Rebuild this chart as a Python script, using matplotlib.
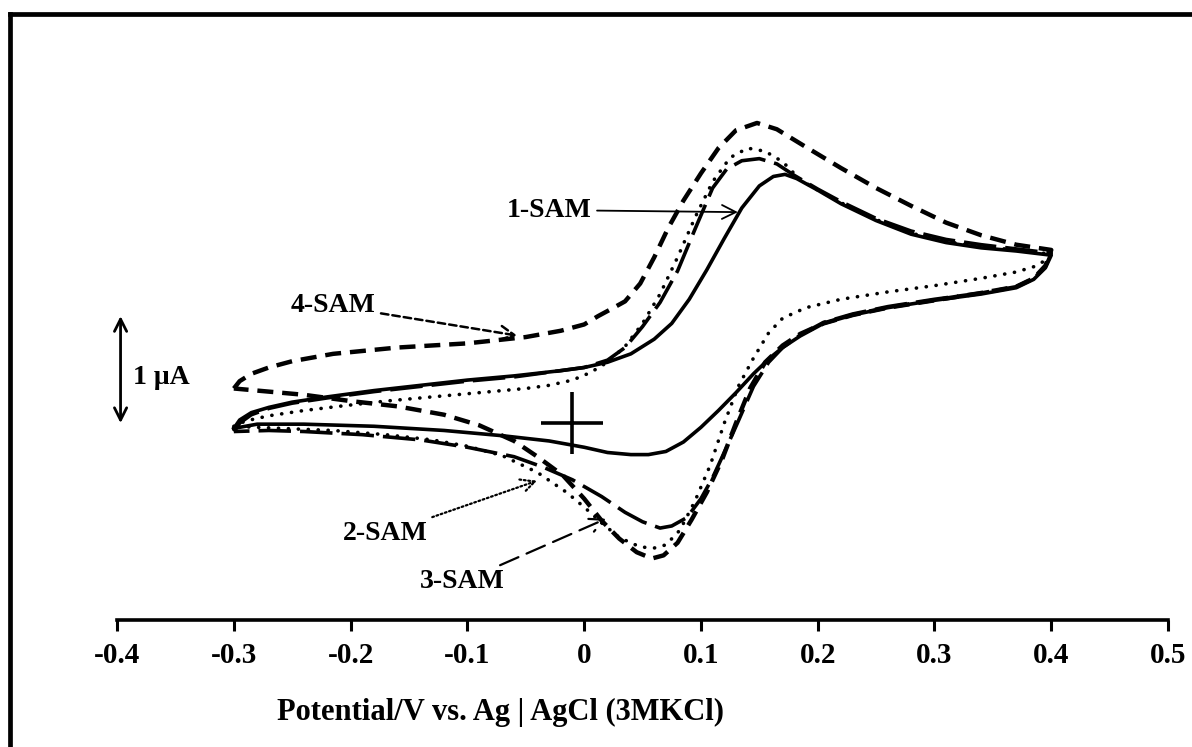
import matplotlib
matplotlib.use("Agg")
import matplotlib.pyplot as plt
from matplotlib.lines import Line2D

# potential (V) and current (uA), forward then reverse scan
sam1_e_fwd = [-0.300, -0.295, -0.285, -0.270, -0.250, -0.220, -0.180, -0.140, -0.100, -0.060,
              -0.020, 0.000, 0.020, 0.040, 0.060, 0.075, 0.090, 0.105, 0.120, 0.135,
              0.150, 0.162, 0.172, 0.182, 0.200, 0.220, 0.250, 0.280, 0.310, 0.340, 0.370, 0.400]
sam1_i_fwd = [-0.05, 0.03, 0.10, 0.15, 0.20, 0.25, 0.31, 0.36, 0.41, 0.45,
              0.50, 0.53, 0.58, 0.66, 0.80, 0.95, 1.18, 1.46, 1.76, 2.05,
              2.26, 2.35, 2.37, 2.33, 2.22, 2.09, 1.93, 1.80, 1.72, 1.67, 1.64, 1.60]
sam1_e_rev = [0.400, 0.395, 0.385, 0.370, 0.340, 0.300, 0.260, 0.230, 0.205, 0.185,
              0.170, 0.160, 0.145, 0.130, 0.115, 0.100, 0.085, 0.070, 0.055, 0.040,
              0.020, 0.000, -0.030, -0.070, -0.120, -0.180, -0.240, -0.280, -0.300]
sam1_i_rev = [1.60, 1.48, 1.37, 1.29, 1.23, 1.17, 1.10, 1.03, 0.95, 0.83,
              0.72, 0.63, 0.47, 0.29, 0.12, -0.04, -0.18, -0.27, -0.30, -0.30,
              -0.28, -0.23, -0.17, -0.12, -0.07, -0.03, -0.01, -0.01, -0.05]

sam2_e_fwd = [-0.300, -0.290, -0.270, -0.240, -0.210, -0.170, -0.130, -0.090, -0.050, -0.030,
              -0.010, 0.005, 0.020, 0.035, 0.050, 0.065, 0.080, 0.095, 0.110, 0.125,
              0.140, 0.155, 0.170, 0.185, 0.200, 0.220, 0.250, 0.280, 0.310, 0.340, 0.370, 0.400]
sam2_i_fwd = [-0.03, 0.02, 0.07, 0.12, 0.16, 0.21, 0.25, 0.29, 0.33, 0.36,
              0.41, 0.48, 0.58, 0.73, 0.95, 1.23, 1.58, 1.96, 2.30, 2.53,
              2.62, 2.59, 2.49, 2.32, 2.22, 2.10, 1.94, 1.81, 1.73, 1.68, 1.65, 1.61]
sam2_e_rev = [0.400, 0.395, 0.385, 0.370, 0.340, 0.300, 0.260, 0.220, 0.190, 0.170,
              0.158, 0.145, 0.132, 0.120, 0.108, 0.095, 0.082, 0.070, 0.060, 0.048,
              0.030, 0.015, 0.000, -0.015, -0.040, -0.070, -0.100, -0.130, -0.170, -0.215,
              -0.260, -0.300]
sam2_i_rev = [1.61, 1.55, 1.49, 1.44, 1.38, 1.31, 1.25, 1.18, 1.10, 1.00,
              0.86, 0.62, 0.35, 0.00, -0.40, -0.74, -1.02, -1.16, -1.19, -1.18,
              -1.09, -0.95, -0.80, -0.66, -0.47, -0.31, -0.22, -0.16, -0.11, -0.07,
              -0.05, -0.03]

sam3_e_fwd = [-0.300, -0.295, -0.285, -0.270, -0.250, -0.220, -0.180, -0.140, -0.100, -0.060,
              -0.020, 0.000, 0.020, 0.035, 0.050, 0.065, 0.080, 0.095, 0.110, 0.122,
              0.135, 0.150, 0.165, 0.180, 0.200, 0.220, 0.250, 0.280, 0.310, 0.340, 0.370, 0.400]
sam3_i_fwd = [-0.08, 0.00, 0.08, 0.14, 0.19, 0.24, 0.30, 0.35, 0.40, 0.44,
              0.50, 0.53, 0.60, 0.72, 0.92, 1.15, 1.45, 1.85, 2.24, 2.42,
              2.50, 2.52, 2.47, 2.36, 2.23, 2.11, 1.95, 1.83, 1.75, 1.70, 1.66, 1.62]
sam3_e_rev = [0.400, 0.395, 0.385, 0.370, 0.340, 0.300, 0.260, 0.230, 0.205, 0.185,
              0.170, 0.158, 0.145, 0.132, 0.122, 0.110, 0.100, 0.088, 0.075, 0.065,
              0.050, 0.035, 0.015, -0.010, -0.035, -0.060, -0.100, -0.140, -0.190, -0.240,
              -0.270, -0.300]
sam3_i_rev = [1.62, 1.49, 1.38, 1.30, 1.24, 1.18, 1.11, 1.04, 0.96, 0.84,
              0.72, 0.58, 0.35, 0.02, -0.23, -0.52, -0.72, -0.90, -0.98, -1.00,
              -0.94, -0.85, -0.70, -0.54, -0.42, -0.32, -0.23, -0.16, -0.11, -0.08,
              -0.07, -0.08]

sam4_e_fwd = [-0.300, -0.295, -0.285, -0.270, -0.250, -0.215, -0.160, -0.100, -0.050, -0.020,
              0.000, 0.012, 0.022, 0.035, 0.048, 0.060, 0.072, 0.085, 0.100, 0.115,
              0.130, 0.148, 0.165, 0.190, 0.220, 0.250, 0.280, 0.310, 0.340, 0.370, 0.400]
sam4_i_fwd = [0.33, 0.40, 0.47, 0.53, 0.59, 0.66, 0.72, 0.76, 0.82, 0.88,
              0.94, 1.02, 1.08, 1.16, 1.33, 1.58, 1.86, 2.12, 2.38, 2.62,
              2.79, 2.86, 2.80, 2.63, 2.43, 2.24, 2.07, 1.91, 1.79, 1.70, 1.65]
sam4_e_rev = [0.400, 0.395, 0.385, 0.370, 0.340, 0.300, 0.260, 0.230, 0.205, 0.185,
              0.170, 0.155, 0.142, 0.130, 0.118, 0.105, 0.092, 0.080, 0.068, 0.058,
              0.045, 0.030, 0.015, 0.000, -0.018, -0.040, -0.060, -0.090, -0.120, -0.160,
              -0.200, -0.240, -0.270, -0.290, -0.300]
sam4_i_rev = [1.65, 1.50, 1.38, 1.30, 1.24, 1.17, 1.10, 1.03, 0.95, 0.85,
              0.74, 0.58, 0.33, 0.00, -0.35, -0.66, -0.92, -1.14, -1.26, -1.29,
              -1.23, -1.10, -0.93, -0.72, -0.50, -0.32, -0.17, -0.02, 0.08, 0.16,
              0.21, 0.27, 0.30, 0.32, 0.33]

x_ticks = [-0.4, -0.3, -0.2, -0.1, 0, 0.1, 0.2, 0.3, 0.4, 0.5]
x_tick_labels = ["-0.4", "-0.3", "-0.2", "-0.1", "0", "0.1", "0.2", "0.3", "0.4", "0.5"]
scale_bar = 1.0  # uA

plt.rcParams['font.family'] = ['Liberation Serif', 'DejaVu Serif']
plt.rcParams['font.weight'] = 'bold'

fig = plt.figure(figsize=(11.92, 7.47), dpi=100)
ax = fig.add_axes([0.0982, 0.1700, 0.8817, 0.7764])

ax.plot(sam1_e_fwd + sam1_e_rev, sam1_i_fwd + sam1_i_rev, color='black', lw=2.6,
        solid_joinstyle='round')
ax.plot(sam2_e_fwd + sam2_e_rev, sam2_i_fwd + sam2_i_rev, color='black', lw=2.6,
        linestyle=(0, (0.05, 2.7)), dash_capstyle='round')
ax.plot(sam3_e_fwd + sam3_e_rev, sam3_i_fwd + sam3_i_rev, color='black', lw=2.6,
        linestyle=(0, (9, 2.5)))
ax.plot(sam4_e_fwd + sam4_e_rev, sam4_i_fwd + sam4_i_rev, color='black', lw=3.2,
        linestyle=(0, (3.6, 2.0)))

# origin cross
ax.plot([-0.01], [0], marker='+', markersize=44, mew=2.6, color='black')

# scale bar
ax.annotate('', xy=(-0.397, scale_bar + 0.02), xytext=(-0.397, 0.0),
            arrowprops=dict(arrowstyle='<->', lw=2, color='black', mutation_scale=22,
                            shrinkA=0, shrinkB=0))
ax.text(-0.386, 0.43, '1 μA', fontsize=20, ha='left', va='center')

# curve labels
ax.annotate('1-SAM', xy=(0.134, 2.01), xytext=(-0.030, 2.03), fontsize=20,
            ha='center', va='center',
            arrowprops=dict(arrowstyle='->', lw=1.3, color='black', mutation_scale=25))
ax.annotate('4-SAM', xy=(-0.055, 0.83), xytext=(-0.215, 1.12), fontsize=20,
            ha='center', va='center',
            arrowprops=dict(arrowstyle='->', lw=1.8, color='black', mutation_scale=25,
                            linestyle=(0, (3, 1.6))))
ax.annotate('2-SAM', xy=(-0.038, -0.54), xytext=(-0.170, -1.05), fontsize=20,
            ha='center', va='center',
            arrowprops=dict(arrowstyle='->', lw=1.6, color='black', mutation_scale=25,
                            linestyle=(0, (0.8, 1.2))))
ax.annotate('3-SAM', xy=(0.021, -0.90), xytext=(-0.104, -1.51), fontsize=20,
            ha='center', va='center',
            arrowprops=dict(arrowstyle='->', lw=1.6, color='black', mutation_scale=25,
                            linestyle=(0, (9, 4))))

ax.set_xlim(-0.4, 0.5)
ax.set_ylim(-1.876, 3.65)
for side in ['left', 'right', 'top']:
    ax.spines[side].set_visible(False)
ax.spines['bottom'].set_linewidth(2.6)
ax.set_yticks([])
ax.set_xticks(x_ticks)
ax.set_xticklabels(x_tick_labels, fontsize=21, fontweight='bold')
ax.tick_params(axis='x', direction='out', length=8, width=2.2, pad=8)

ax.set_xlabel('Potential/V vs. Ag | AgCl (3MKCl)', fontsize=22, fontweight='bold')
ax.xaxis.set_label_coords(0.3644, -0.1586)
ax.xaxis.label.set_va('center')

# outer frame (only left and top visible in the crop)
fig.add_artist(Line2D([10 / 1192, 10 / 1192], [0, 1 - 14 / 747], color='black', lw=3.4,
                      transform=fig.transFigure))
fig.add_artist(Line2D([10 / 1192, 1], [1 - 14 / 747, 1 - 14 / 747], color='black', lw=3.4,
                      transform=fig.transFigure, solid_capstyle='projecting'))

fig.savefig('out.png', dpi=100)
